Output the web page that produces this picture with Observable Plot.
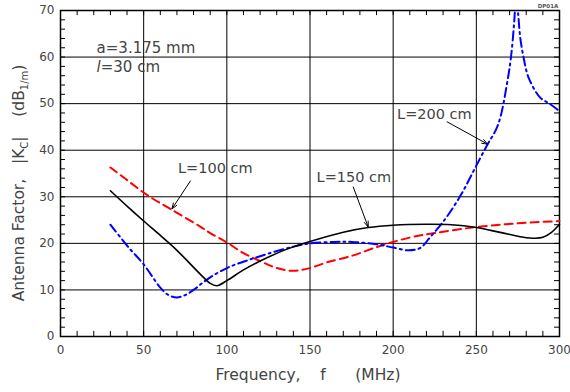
<!DOCTYPE html>
<html>
<head>
<meta charset="utf-8">
<script src="https://cdn.jsdelivr.net/npm/d3@7"></script>
<script src="https://cdn.jsdelivr.net/npm/@observablehq/plot@0.6"></script>
<style>
  html, body { margin: 0; padding: 0; background: #fff; }
</style>
</head>
<body>
<div id="chart"></div>
<script>
// ---- Data ----
const xMajor = [0, 50, 100, 150, 200, 250, 300];
const yMajor = [0, 10, 20, 30, 40, 50, 60, 70];
const xMinor = d3.range(0, 301, 10);
const yMinor = d3.range(0, 71, 2);

const l150x = [30, 40, 50, 60, 70, 84, 90, 94, 100, 110, 120, 135, 150, 170, 185, 200, 220, 235, 250, 265, 280, 285, 290, 295, 300];
const l150y = [31.3, 28.0, 24.8, 21.7, 18.5, 13.4, 11.4, 10.9, 12.0, 14.3, 16.2, 18.6, 20.4, 22.4, 23.4, 23.9, 24.1, 24.0, 23.4, 22.3, 21.2, 21.1, 21.3, 22.3, 24.1];

const l100x = [30, 40, 52, 67, 84, 90, 100, 110, 120, 130, 140, 150, 160, 175, 190, 200, 212, 225, 250, 275, 300];
const l100y = [36.3, 33.6, 30.4, 27.2, 23.6, 22.2, 20.2, 17.9, 16.2, 14.7, 14.1, 14.7, 15.9, 17.3, 19.2, 20.3, 21.4, 22.2, 23.5, 24.3, 24.8];

const l200x = [30, 41, 50, 60, 65, 70, 75, 80, 85, 90, 100, 112, 125, 140, 150, 165, 175, 190, 200, 209, 215, 218, 221, 230.4, 240.4, 248.4, 256.8, 261.4, 264.4, 268.4, 270.8, 272.8, 273.9, 275.2, 276.4, 278.4, 281.4, 288.4, 294.4, 300];
const l200y = [24.0, 19.1, 15.5, 10.5, 8.9, 8.4, 8.9, 10.0, 11.4, 12.7, 14.7, 16.3, 17.8, 19.3, 20.0, 20.3, 20.3, 19.8, 19.1, 18.5, 18.8, 19.5, 20.8, 24.8, 30.2, 35.6, 41.3, 44.1, 47.0, 54.2, 59.9, 67.7, 74.0, 69.0, 64.2, 59.9, 55.6, 51.3, 49.9, 48.4];

const seriesLabels = ["L=100 cm", "L=150 cm", "L=200 cm"];
const labelX = [93.1, 176.4, 224.8];
const labelY = [36.0, 34.1, 47.7];
const arrowX1 = [78.1, 176.0, 232.4];
const arrowY1 = [33.4, 32.1, 46.1];
const arrowX2 = [67.0, 185.0, 256.8];
const arrowY2 = [27.4, 23.5, 41.3];

const zip = (xs, ys) => xs.map((x, i) => ({x, y: ys[i]}));
const d150 = zip(l150x, l150y);
const d100 = zip(l100x, l100y);
const d200 = zip(l200x, l200y);
const labels = seriesLabels.map((t, i) => ({t, x: labelX[i], y: labelY[i]}));
const arrows = seriesLabels.map((t, i) => ({x1: arrowX1[i], y1: arrowY1[i], x2: arrowX2[i], y2: arrowY2[i]}));

const FONT = "DejaVu Sans";
const TXT = "#444";

const plot = Plot.plot({
  width: 570,
  height: 392,
  marginLeft: 60,
  marginRight: 11,
  marginTop: 10,
  marginBottom: 56,
  style: {fontFamily: FONT, fontSize: "12px", color: TXT, background: "#fff"},
  x: {domain: [0, 300], label: null},
  y: {domain: [0, 70], label: null},
  marks: [
    Plot.ruleX(xMajor.slice(1, -1), {stroke: "black", strokeWidth: 1}),
    Plot.ruleY(yMajor.slice(1, -1), {stroke: "black", strokeWidth: 1}),
    // inner minor ticks
    Plot.ruleX(xMinor, {y1: 0, y2: 1.1, stroke: "black", strokeWidth: 1}),
    Plot.ruleX(xMinor, {y1: 70, y2: 68.9, stroke: "black", strokeWidth: 1}),
    Plot.ruleY(yMinor, {x1: 0, x2: 3, stroke: "black", strokeWidth: 1}),
    Plot.ruleY(yMinor, {x1: 300, x2: 297, stroke: "black", strokeWidth: 1}),
    Plot.frame({stroke: "black", strokeWidth: 1.5}),
    Plot.axisX(xMajor, {tickSize: 0, tickPadding: 9, fill: TXT, fontSize: 12}),
    Plot.axisY(yMajor, {tickSize: 0, tickPadding: 6, fill: TXT, fontSize: 12}),
    // curves
    Plot.line(d100, {x: "x", y: "y", curve: "catmull-rom", stroke: "#ff0000", strokeWidth: 2, strokeDasharray: "8,5"}),
    Plot.line(d200, {x: "x", y: "y", curve: "catmull-rom", stroke: "#0000ff", strokeWidth: 2, strokeDasharray: "9,4,2,4", clip: true}),
    Plot.line(d150, {x: "x", y: "y", curve: "catmull-rom", stroke: "black", strokeWidth: 1.6}),
    // annotations
    Plot.arrow(arrows, {x1: "x1", y1: "y1", x2: "x2", y2: "y2", stroke: "black", strokeWidth: 1, headLength: 9, headAngle: 40}),
    Plot.text(labels, {x: "x", y: "y", text: "t", fontSize: 14.5, fill: TXT, fontFamily: FONT})
  ]
});

const svg = d3.select(plot);
const sx = plot.scale("x"), sy = plot.scale("y");

// parameter annotations
const paramX = 22;
const paramY = [62, 57.9];
svg.append("text")
  .attr("x", sx.apply(paramX)).attr("y", sy.apply(paramY[0])).attr("dy", "0.35em")
  .attr("text-anchor", "start")
  .attr("font-family", FONT).attr("font-size", 15).attr("fill", TXT)
  .text("a=3.175 mm");
const t2 = svg.append("text")
  .attr("x", sx.apply(paramX)).attr("y", sy.apply(paramY[1])).attr("dy", "0.35em")
  .attr("text-anchor", "start")
  .attr("font-family", FONT).attr("font-size", 15).attr("fill", TXT);
t2.append("tspan").attr("font-style", "italic").text("l");
t2.append("tspan").text("=30 cm");

// axis titles
svg.append("text")
  .attr("x", 308).attr("y", 380)
  .attr("text-anchor", "middle")
  .attr("font-family", FONT).attr("font-size", 15.5).attr("fill", TXT)
  .style("white-space", "pre")
  .text("Frequency,    f      (MHz)");

const yl = svg.append("text")
  .attr("transform", "translate(24,183) rotate(-90)")
  .attr("text-anchor", "middle")
  .attr("font-family", FONT).attr("font-size", 15.5).attr("fill", TXT)
  .style("white-space", "pre");
yl.append("tspan").text("Antenna Factor,   |K");
yl.append("tspan").attr("font-size", 10).attr("dy", 4).text("C");
yl.append("tspan").attr("dy", -4).text("|    (dB");
yl.append("tspan").attr("font-size", 10).attr("dy", 4).text("1/m");
yl.append("tspan").attr("dy", -4).text(")");

svg.append("text")
  .attr("x", 548).attr("y", 7.5)
  .attr("text-anchor", "middle")
  .attr("font-family", FONT).attr("font-size", 5.5).attr("font-weight", "bold").attr("fill", "#555")
  .text("DP01A");

document.getElementById("chart").appendChild(plot);
</script>
</body>
</html>
